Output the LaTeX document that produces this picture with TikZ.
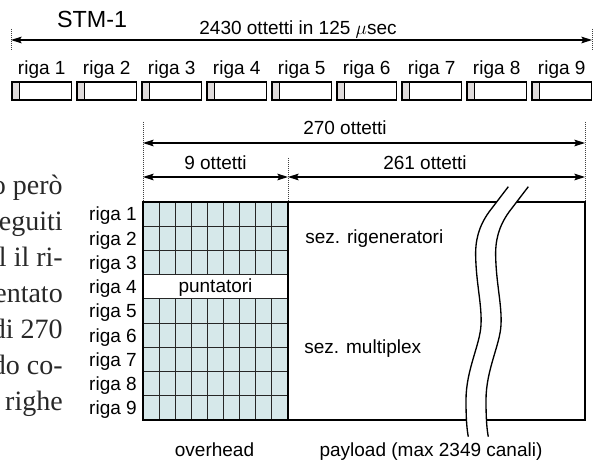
\documentclass[tikz,border=0pt]{standalone}
\usepackage{fontspec}
\setsansfont{Liberation Sans}
\newfontfamily\bookfont{Liberation Serif}
\usetikzlibrary{arrows.meta}
\definecolor{gridfill}{RGB}{214,232,234}
\definecolor{hdrgray}{RGB}{224,220,220}
\definecolor{booktext}{RGB}{40,40,40}
\newcommand\booksize{\bookfont\fontsize{21pt}{25pt}\selectfont}
\begin{document}
\begin{tikzpicture}[x=0.75pt,y=-0.75pt,
  lbl/.style={font=\sffamily\fontsize{14.25}{17}\selectfont, inner sep=0pt},
  biglbl/.style={font=\sffamily\fontsize{17.5}{20}\selectfont, inner sep=0pt},
  dim/.style={{Stealth[length=8pt,width=5pt,inset=1.5pt]}-{Stealth[length=8pt,width=5pt,inset=1.5pt]}, line width=0.8pt},
  guide/.style={densely dotted, line width=0.5pt, black!75},
  booktxt/.style={text=booktext, inner sep=0pt, anchor=base east},
  hdrbox/.style={line width=1.4pt},
  gridline/.style={line width=0.75pt, black!85},
  frameline/.style={line width=1pt},
  waveline/.style={line width=1pt}
]
\useasboundingbox (0,0) rectangle (594,463);

% ---- book text cut off at the left edge
\begin{scope}
\clip (0,0) rectangle (594,463);
\node[booktxt] (b1) at (63,195) {\booksize o però};
\node[booktxt] (b2) at (63,231) {\booksize eguiti};
\node[booktxt] (b3) at (63,267) {\booksize l il ri-};
\node[booktxt] (b4) at (63,303) {\booksize entato};
\node[booktxt] (b5) at (63,339) {\booksize di 270};
\node[booktxt] (b6) at (63,375) {\booksize do co-};
\node[booktxt] (b7) at (63,411) {\booksize\ righe};
\end{scope}

% ---- top: STM-1 frame as a sequence of rows
\node[biglbl, anchor=base] (stm) at (92,28) {STM-1};
\node[lbl, anchor=base] (tot) at (298,35) {2430 ottetti in 125 $\mu$sec};
\coordinate (tl) at (11,40);
\coordinate (tr) at (592,40);
\draw[guide] (11,29) -- (11,50);
\draw[guide] (592,29) -- (592,50);
\draw[dim] (tl) -- (tr);

\foreach \k in {1,...,9}{
  \pgfmathsetmacro\xa{12+65*(\k-1)}
  \fill[hdrgray] (\xa,82) rectangle ++(7.5,18);
  \draw[hdrbox] (\xa,82) rectangle ++(59.5,18);
  \draw[hdrbox] (\xa+7.5,82) -- ++(0,18);
  \node[lbl, anchor=base] (t\k) at (\xa+29.75,74.5) {riga \k};
}

% ---- dimension lines
\coordinate (g0) at (143,143);
\coordinate (g1) at (585,143);
\coordinate (h0) at (143,177);
\coordinate (h1) at (288,177);
\coordinate (h2) at (585,177);
\draw[guide] (143,122) -- (143,202);
\draw[guide] (288,158) -- (288,202);
\draw[guide] (585,122) -- (585,202);
\draw[dim] (g0) -- (g1);
\draw[dim] (h0) -- (h1);
\draw[dim] (h1) -- (h2);
\node[lbl, anchor=base] (l270) at (345,135) {270 ottetti};
\node[lbl, anchor=base] (l9) at (215.5,170) {9 ottetti};
\node[lbl, anchor=base] (l261) at (425,170) {261 ottetti};

% ---- overhead grid
\fill[gridfill] (143,202) rectangle (288,420);
\fill[white] (143,274.67) rectangle (288,298.89);
\foreach \i in {1,...,8}{
  \draw[gridline] (143,202+24.222*\i) -- (288,202+24.222*\i);
}
\foreach \j in {1,...,8}{
  \draw[gridline] (143+16.111*\j,202) -- (143+16.111*\j,274.67);
  \draw[gridline] (143+16.111*\j,298.89) -- (143+16.111*\j,420);
}
\draw[frameline] (288,202) -- (288,420);
\draw[frameline] (143,202) rectangle (585,420);
\node[lbl, anchor=base] (punt) at (215.5,293) {puntatori};

\foreach \k in {1,...,9}{
  \node[lbl, anchor=base east] (r\k) at (137,202+24.222*\k-12.11+6.8) {riga \k};
}

% ---- payload texts
\node[lbl, anchor=base west] (rig) at (305,244) {sez. rigeneratori};
\node[lbl, anchor=base west] (mux) at (304,354) {sez. multiplex};
\node[lbl, anchor=base] (ovh) at (214.5,457) {overhead};
\node[lbl, anchor=base] (pay) at (431,457) {payload (max 2349 canali)};

% ---- break marks
\fill[white] (508.3,186.7) -- (489,212) .. controls (479,226) and (475,240) .. (475.7,258)
  .. controls (476.5,285) and (482,305) .. (481,325)
  .. controls (480,345) and (466,370) .. (466,400)
  .. controls (466,420) and (467,430) .. (468.3,436.7)
  -- (488.3,436.7) .. controls (487,430) and (486,420) .. (486,400)
  .. controls (486,370) and (500,345) .. (501,325)
  .. controls (502,305) and (496.5,285) .. (495.7,258)
  .. controls (495,240) and (499,226) .. (509,212) -- (528.3,186.7) -- cycle;
\draw[waveline] (508.3,186.7) -- (489,212) .. controls (479,226) and (475,240) .. (475.7,258)
  .. controls (476.5,285) and (482,305) .. (481,325)
  .. controls (480,345) and (466,370) .. (466,400)
  .. controls (466,420) and (467,430) .. (468.3,436.7);
\draw[waveline] (528.3,186.7) -- (509,212) .. controls (499,226) and (495,240) .. (495.7,258)
  .. controls (496.5,285) and (502,305) .. (501,325)
  .. controls (500,345) and (486,370) .. (486,400)
  .. controls (486,420) and (487,430) .. (488.3,436.7);
\end{tikzpicture}
\end{document}
